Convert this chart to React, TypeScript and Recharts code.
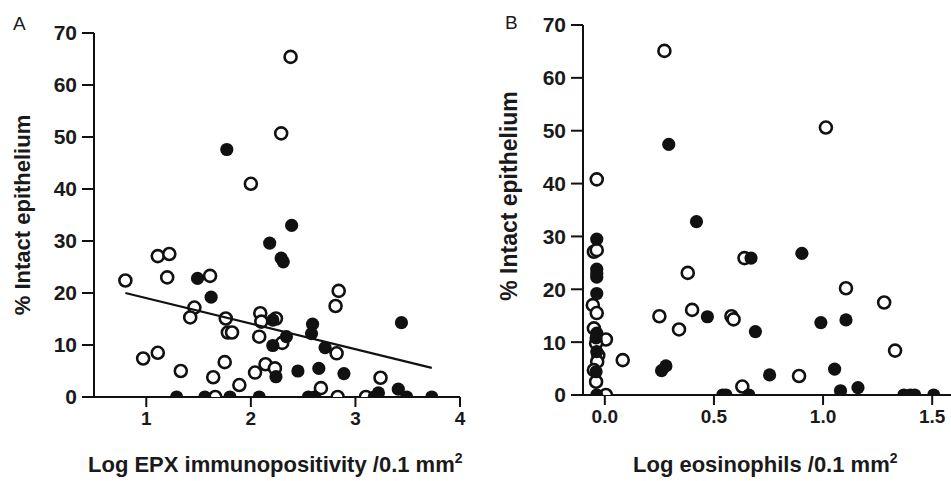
import { ScatterChart, Scatter, XAxis, YAxis } from 'recharts';

const FONT = '"Liberation Sans", Arial, Helvetica, sans-serif';
const INK = '#111';

// Panel A: log EPX immunopositivity vs % intact epithelium
const epxOpen: [number, number][] = [
  [0.8, 22.4], [1.11, 27.1], [1.22, 27.5], [1.2, 23.0], [1.61, 23.3], [1.46, 17.2],
  [1.42, 15.3], [1.76, 15.1], [1.78, 12.4], [1.82, 12.4], [2.09, 16.1], [2.1, 14.5],
  [2.08, 11.6], [0.97, 7.4], [1.11, 8.5], [1.33, 5.0], [1.75, 6.7], [1.64, 3.8],
  [1.89, 2.3], [2.04, 4.7], [2.14, 6.3], [2.23, 5.5], [1.66, 0], [2.0, 41.0],
  [2.29, 50.7], [2.38, 65.4], [2.84, 20.4], [2.81, 17.5], [2.24, 15.1], [2.3, 10.4],
  [2.82, 8.4], [3.24, 3.7], [2.67, 1.7], [2.83, 0], [3.1, 0],
];
const epxFilled: [number, number][] = [
  [1.77, 47.6], [2.39, 33.0], [2.18, 29.6], [2.29, 26.7], [2.31, 26.0], [1.49, 22.8],
  [1.62, 19.2], [2.21, 14.8], [2.59, 14.0], [3.44, 14.3], [2.58, 12.2], [2.34, 11.6],
  [2.21, 9.9], [2.71, 9.5], [2.24, 3.9], [2.45, 5.0], [2.65, 5.5], [2.89, 4.5],
  [3.41, 1.5], [3.22, 0.8], [1.29, 0], [1.56, 0], [1.8, 0], [2.08, 0], [2.55, 0],
  [2.61, 0], [3.18, 0], [3.49, 0], [3.73, 0],
];
const epxFit: [number, number][] = [[0.8, 20.0], [3.73, 5.6]];
const epxTicks = [1, 2, 3, 4];

// Panel B: log eosinophils vs % intact epithelium
const eosOpen: [number, number][] = [
  [0.273, 65.1], [-0.037, 40.8], [1.013, 50.6], [-0.05, 27.1], [-0.037, 27.4],
  [-0.055, 17.0], [-0.037, 15.5], [-0.05, 12.6], [0.005, 10.5], [-0.04, 9.8],
  [-0.03, 7.5], [-0.035, 6.3], [-0.05, 4.7], [-0.04, 2.5], [0.005, 0], [0.082, 6.6],
  [0.25, 14.9], [0.38, 23.1], [0.4, 16.1], [0.34, 12.4], [0.58, 14.9], [0.59, 14.3],
  [0.64, 25.9], [0.63, 1.6], [1.105, 20.2], [1.28, 17.5], [1.33, 8.4], [0.89, 3.6],
];
const eosFilled: [number, number][] = [
  [0.293, 47.4], [0.42, 32.8], [-0.037, 29.5], [-0.037, 23.8], [-0.037, 23.0],
  [-0.037, 22.3], [-0.037, 19.2], [-0.037, 11.7], [-0.04, 10.8], [-0.037, 8.2],
  [-0.04, 4.4], [-0.037, 0], [0.47, 14.8], [0.26, 4.6], [0.28, 5.5], [0.67, 25.9],
  [0.69, 12.0], [0.755, 3.8], [0.66, 0], [0.54, 0], [0.555, 0], [0.903, 26.8],
  [0.99, 13.7], [1.105, 14.2], [1.053, 4.9], [1.08, 0.8], [1.16, 1.4], [1.37, 0],
  [1.4, 0], [1.42, 0], [1.507, 0],
];
const eosTicks = [0, 0.5, 1, 1.5];

const yTicks = [0, 10, 20, 30, 40, 50, 60, 70];

const toPts = (arr: [number, number][]) => arr.map(([x, y]) => ({ x, y }));

const openDot = (p: any) => (
  <circle cx={p.cx} cy={p.cy} r={6} fill="#fff" stroke={INK} strokeWidth={2.6} />
);
const filledDot = (p: any) => <circle cx={p.cx} cy={p.cy} r={6.6} fill={INK} />;
const noDot = () => <g />;

const axisLine = { stroke: INK, strokeWidth: 2 };
const yTickStyle = { fill: '#1a1a1a', fontSize: 21, fontWeight: 700, fontFamily: FONT };
const xTickStyle = { fill: '#1a1a1a', fontSize: 19, fontWeight: 700, fontFamily: FONT };

export default function App() {
  return (
    <div
      style={{
        position: 'fixed',
        left: 0,
        top: 0,
        width: 951,
        height: 481,
        overflow: 'hidden',
        background: '#fff',
      }}
    >
      <div style={{ position: 'absolute', left: 0, top: 0 }}>
        <ScatterChart width={480} height={481} margin={{ top: 33, right: 20, bottom: 0, left: 0 }}>
          <XAxis
            type="number"
            dataKey="x"
            domain={[0.5, 4]}
            ticks={epxTicks}
            allowDataOverflow
            height={84}
            tickSize={10}
            tickMargin={5}
            axisLine={axisLine}
            tickLine={axisLine}
            tick={xTickStyle}
          />
          <YAxis
            type="number"
            dataKey="y"
            domain={[0, 70]}
            ticks={yTicks}
            interval={0}
            allowDataOverflow
            width={94}
            tickSize={12}
            tickMargin={5}
            axisLine={axisLine}
            tickLine={axisLine}
            tick={yTickStyle}
          />
          <Scatter data={toPts(epxOpen)} shape={openDot} isAnimationActive={false} />
          <Scatter data={toPts(epxFilled)} shape={filledDot} isAnimationActive={false} />
          <Scatter
            data={toPts(epxFit)}
            line={{ stroke: INK, strokeWidth: 2.2 }}
            shape={noDot}
            isAnimationActive={false}
          />
        </ScatterChart>
      </div>

      <div style={{ position: 'absolute', left: 490, top: 0 }}>
        <ScatterChart width={470} height={481} margin={{ top: 25, right: 6, bottom: 0, left: 0 }}>
          <XAxis
            type="number"
            dataKey="x"
            domain={[-0.1, 1.6]}
            ticks={eosTicks}
            tickFormatter={(v: number) => v.toFixed(1)}
            allowDataOverflow
            height={86}
            tickSize={10}
            tickMargin={5}
            axisLine={axisLine}
            tickLine={axisLine}
            tick={xTickStyle}
          />
          <YAxis
            type="number"
            dataKey="y"
            domain={[0, 70]}
            ticks={yTicks}
            interval={0}
            allowDataOverflow
            width={93}
            tickSize={12}
            tickMargin={5}
            axisLine={axisLine}
            tickLine={axisLine}
            tick={yTickStyle}
          />
          <Scatter data={toPts(eosOpen)} shape={openDot} isAnimationActive={false} />
          <Scatter data={toPts(eosFilled)} shape={filledDot} isAnimationActive={false} />
        </ScatterChart>
      </div>

      <svg
        width={951}
        height={481}
        style={{ position: 'absolute', left: 0, top: 0, pointerEvents: 'none' }}
        fontFamily={FONT}
      >
        <text x={13} y={30} fontSize={19} fill="#1a1a1a">A</text>
        <text x={505} y={29} fontSize={19} fill="#1a1a1a">B</text>
        <text
          transform="translate(30,215) rotate(-90)"
          textAnchor="middle"
          fontSize={22}
          fontWeight={700}
          fill="#1a1a1a"
        >
          % Intact epithelium
        </text>
        <text
          transform="translate(517,196) rotate(-90)"
          textAnchor="middle"
          fontSize={23}
          fontWeight={700}
          fill="#1a1a1a"
        >
          % Intact epithelium
        </text>
        <text x={88} y={472} fontSize={22} fontWeight={700} fill="#1a1a1a">
          Log EPX immunopositivity /0.1 mm
          <tspan fontSize={14} dy={-9}>2</tspan>
        </text>
        <text x={633} y={472} fontSize={22} fontWeight={700} fill="#1a1a1a">
          Log eosinophils /0.1 mm
          <tspan fontSize={14} dy={-9}>2</tspan>
        </text>
      </svg>
    </div>
  );
}
